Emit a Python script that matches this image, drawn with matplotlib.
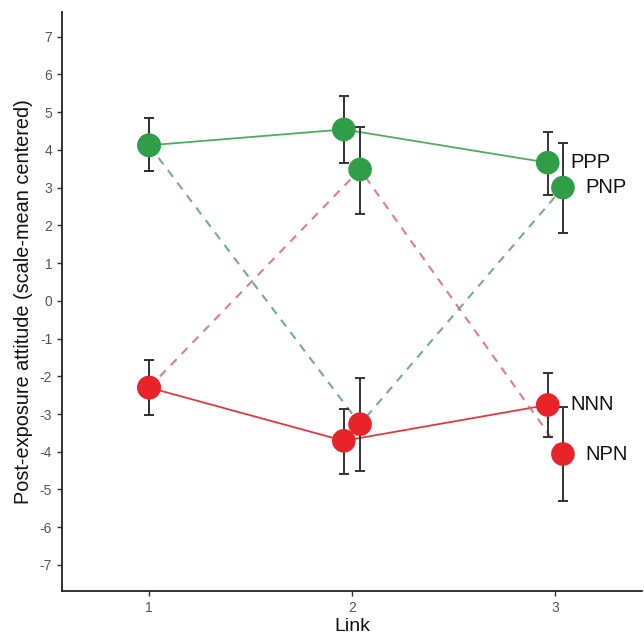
import matplotlib
matplotlib.use("Agg")
import matplotlib.pyplot as plt

plt.rcParams['font.family'] = ['Liberation Sans', 'DejaVu Sans']

links = [1, 2, 3]
conditions = ["PPP", "PNP", "NNN", "NPN"]
dodge = {"PPP": [0.0, -0.04, -0.035], "PNP": [0.0, 0.04, 0.04],
         "NNN": [0.0, -0.04, -0.035], "NPN": [0.0, 0.04, 0.04]}
means = {
    "PPP": [4.12, 4.54, 3.66],
    "PNP": [4.12, -3.27, 3.00],
    "NNN": [-2.30, -3.71, -2.76],
    "NPN": [-2.30, 3.48, -4.06],
}
upper = {
    "PPP": [4.83, 5.43, 4.47],
    "PNP": [4.83, -2.04, 4.17],
    "NNN": [-1.57, -2.87, -1.92],
    "NPN": [-1.57, 4.60, -2.81],
}
lower = {
    "PPP": [3.43, 3.65, 2.80],
    "PNP": [3.43, -4.52, 1.79],
    "NNN": [-3.03, -4.59, -3.62],
    "NPN": [-3.03, 2.30, -5.31],
}
yticks = list(range(-7, 8))

GREEN = "#2f9e47"
RED = "#e8242a"
line_style = {
    "PPP": dict(color="#4fae5e", ls="-", lw=1.3, alpha=1.0),
    "PNP": dict(color="#5aa172", ls=(0, (4, 3.5)), lw=1.5, alpha=0.85),
    "NNN": dict(color="#e2383d", ls="-", lw=1.3, alpha=1.0),
    "NPN": dict(color="#e06377", ls=(0, (4, 3.5)), lw=1.5, alpha=0.85),
}

fig = plt.figure(figsize=(6.44, 6.39), dpi=100)
ax = fig.add_axes([0.0963, 0.0751, 0.9007, 0.9066])

for c in conditions:
    xs = [l + d for l, d in zip(links, dodge[c])]
    st = line_style[c]
    ax.plot(xs, means[c], color=st["color"], ls=st["ls"], lw=st["lw"],
            alpha=st["alpha"], zorder=1)

for c in conditions:
    xs = [l + d for l, d in zip(links, dodge[c])]
    yerr = [[m - lo for m, lo in zip(means[c], lower[c])],
            [u - m for m, u in zip(means[c], upper[c])]]
    ax.errorbar(xs, means[c], yerr=yerr, fmt="none", ecolor="#333333",
                elinewidth=1.4, capsize=3.3, capthick=1.4, zorder=2)
    cols = [GREEN if ch == "P" else RED for ch in c]
    ax.scatter(xs, means[c], s=290, c=cols, zorder=3, linewidths=0)
    ax.text(xs[-1] + 0.112, means[c][-1], c, fontsize=14.5, va="center",
            ha="left", color="#111111")

ax.set_xlim(0.571, 3.43)
ax.set_ylim(-7.69, 7.66)
ax.set_xticks(links)
ax.set_yticks(yticks)
ax.set_yticklabels([str(t) for t in yticks])
ax.tick_params(axis="both", colors="#333333", labelcolor="#555555",
               labelsize=10, length=3.6, width=1.0)
for s in ["top", "right"]:
    ax.spines[s].set_visible(False)
for s in ["left", "bottom"]:
    ax.spines[s].set_color("#222222")
    ax.spines[s].set_linewidth(1.3)

ax.set_xlabel("Link", fontsize=14, color="#111111", labelpad=2)
ax.set_ylabel("Post-exposure attitude (scale-mean centered)", fontsize=14.3,
              color="#111111", labelpad=5)

fig.savefig("out.png", dpi=100)
